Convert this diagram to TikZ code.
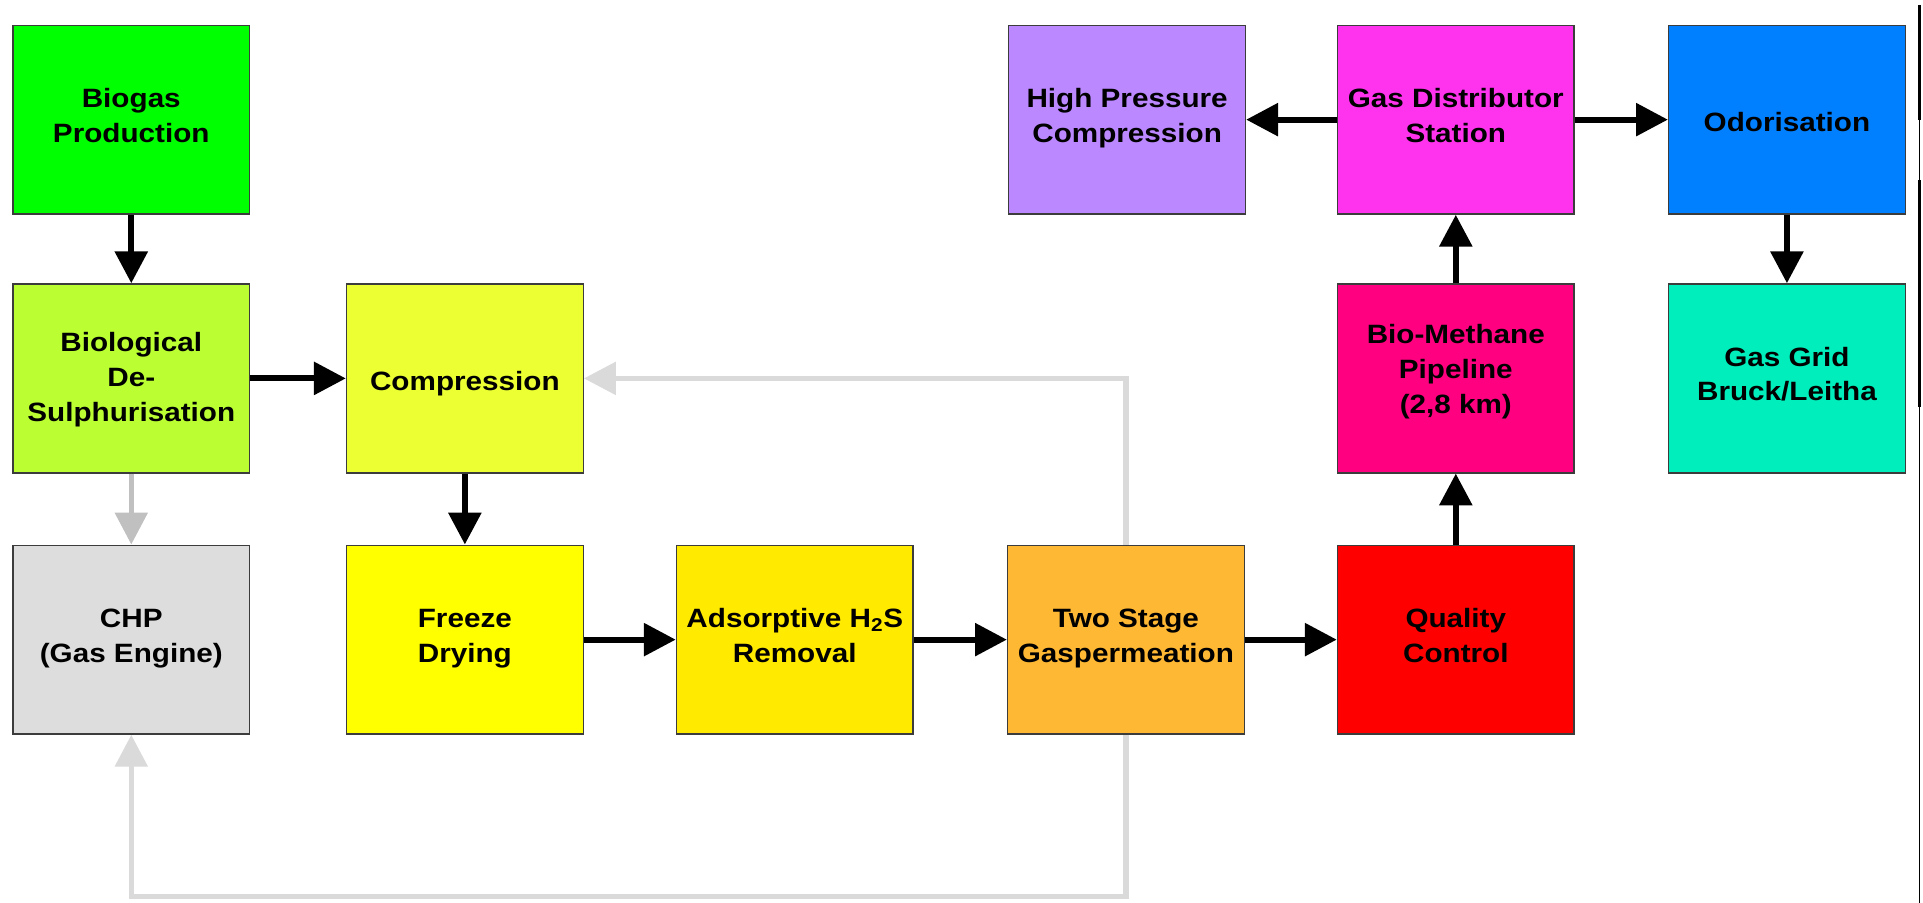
\documentclass[tikz,border=0pt]{standalone}
\usepackage{fontspec}
\setmainfont{Liberation Sans}[FakeStretch=1.12]
\usetikzlibrary{arrows.meta}
\definecolor{cBiogas}{RGB}{0,255,0}
\definecolor{cBioDeS}{RGB}{187,255,51}
\definecolor{cComp}{RGB}{235,255,51}
\definecolor{cCHP}{RGB}{221,221,221}
\definecolor{cFreeze}{RGB}{255,255,0}
\definecolor{cAds}{RGB}{255,234,0}
\definecolor{cTwo}{RGB}{255,184,51}
\definecolor{cQual}{RGB}{255,0,0}
\definecolor{cBioMeth}{RGB}{255,0,128}
\definecolor{cGD}{RGB}{255,51,238}
\definecolor{cHP}{RGB}{187,136,255}
\definecolor{cOdor}{RGB}{0,128,255}
\definecolor{cGrid}{RGB}{0,238,187}
\definecolor{edge}{RGB}{60,60,60}
\definecolor{grayA}{RGB}{192,192,192}
\definecolor{grayB}{RGB}{218,218,218}
\newcommand{\boxtext}[2]{\raisebox{#1pt}[0pt][0pt]{\begin{tabular}[t]{@{}c@{}}#2\end{tabular}}}
\begin{document}
\begin{tikzpicture}[x=1pt,y=-1pt,
  box/.style={draw=edge, line width=1.1pt, minimum width=193pt, minimum height=154pt,
    inner sep=0pt, anchor=north west,
    font=\bfseries\fontsize{21.6}{28.5}\selectfont},
  flow/.style={line width=5pt, draw=black, -{Triangle[length=26pt,width=26pt]}},
  side/.style={line width=4.5pt, draw=grayA, -{Triangle[length=26pt,width=26pt]}},
  back/.style={line width=4.5pt, draw=grayB, -{Triangle[length=26pt,width=26pt]}}]
\useasboundingbox (0,0) rectangle (1568,736);
\fill[white] (0,0) rectangle (1568,736);

\node[box, fill=cBiogas]  (biogas) at (10,20)   {\boxtext{9.8}{Biogas\\Production}};
\node[box, fill=cHP]      (hp)     at (822,20)  {\boxtext{9.6}{High Pressure\\Compression}};
\node[box, fill=cGD]      (gd)     at (1090,20) {\boxtext{9.6}{Gas Distributor\\Station}};
\node[box, fill=cOdor]    (odor)   at (1360,20) {\boxtext{-9.75}{Odorisation}};
\node[box, fill=cBioDeS]  (bdes)   at (10,231)  {\boxtext{21.75}{Biological\\De-\\Sulphurisation}};
\node[box, fill=cComp]    (comp)   at (282,231) {\boxtext{-9.45}{Compression}};
\node[box, fill=cBioMeth] (bmeth)  at (1090,231){\boxtext{28.75}{Bio-Methane\\Pipeline\\(2,8 km)}};
\node[box, fill=cGrid]    (grid)   at (1360,231){\boxtext{10.1}{Gas Grid\\Bruck/Leitha}};
\node[box, fill=cCHP]     (chp)    at (10,444)  {\boxtext{9.9}{CHP\\(Gas Engine)}};
\node[box, fill=cFreeze]  (freeze) at (282,444) {\boxtext{9.5}{Freeze\\Drying}};
\node[box, fill=cAds]     (ads)    at (551,444) {\boxtext{10.1}{Adsorptive H\textsubscript{2}S\\Removal}};
\node[box, fill=cTwo]     (two)    at (821,444) {\boxtext{9.5}{Two Stage\\Gaspermeation}};
\node[box, fill=cQual]    (qual)   at (1090,444){\boxtext{9.8}{Quality\\Control}};

\coordinate (bot) at (0,731);

% grey feedback lines
\draw[back] (two.north) |- (comp.east);
\draw[back] (two.south) -- (two.south |- bot) -| (chp.south);
\draw[side] (bdes.south) -- (chp.north);

% main flow
\draw[flow] (biogas.south) -- (bdes.north);
\draw[flow] (bdes.east) -- (comp.west);
\draw[flow] (comp.south) -- (freeze.north);
\draw[flow] (freeze.east) -- (ads.west);
\draw[flow] (ads.east) -- (two.west);
\draw[flow] (two.east) -- (qual.west);
\draw[flow] (qual.north) -- (bmeth.south);
\draw[flow] (bmeth.north) -- (gd.south);
\draw[flow] (gd.west) -- (hp.east);
\draw[flow] (gd.east) -- (odor.west);
\draw[flow] (odor.south) -- (grid.north);

% right edge line
\draw[black, line width=0.8pt] (1565.5,4) -- (1565.5,736);
\draw[black, line width=2.5pt] (1565.5,4) -- (1565.5,98);
\draw[black, line width=2.5pt] (1565.5,147) -- (1565.5,332);
\end{tikzpicture}
\end{document}
